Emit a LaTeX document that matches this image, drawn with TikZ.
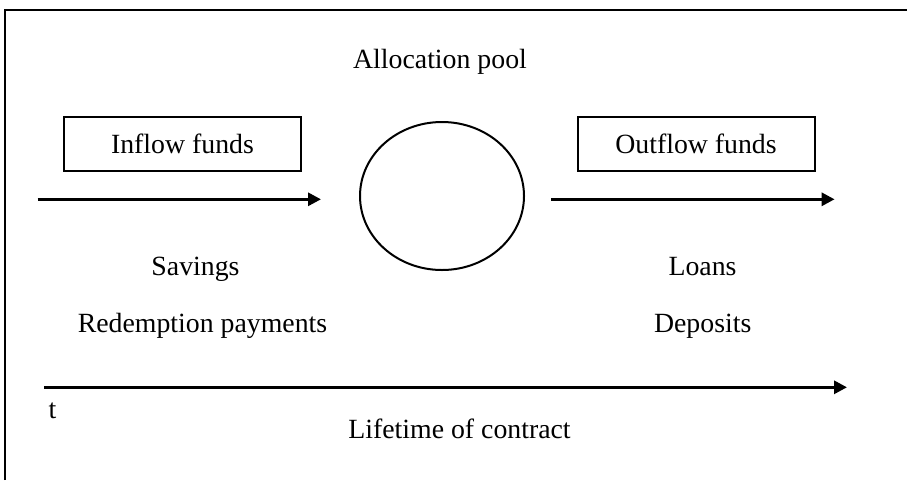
\documentclass[tikz,border=0pt]{standalone}
\usepackage{fontspec}
\setmainfont{Liberation Serif}
\usetikzlibrary{arrows.meta,shapes.geometric}
\begin{document}
\begin{tikzpicture}[x=1pt,y=-1pt,
  lbl/.style={font=\fontsize{27.8}{33}\selectfont, inner sep=0pt, anchor=base},
  fundbox/.style={draw, line width=2pt, minimum width=237pt, minimum height=54pt, inner sep=0pt},
  flow/.style={line width=3pt, -{Triangle[length=13pt,width=13pt]}}]
\useasboundingbox (0,0) rectangle (907,480);
% frame (only top and left visible)
\draw[line width=2pt] (4.6,480) -- (4.6,10) -- (907,10);
% texts
\node[lbl] (alloc) at (440,68) {Allocation pool};
\node[fundbox] (inbox) at (182.5,144) {};
\node[lbl] (intext) at (182.5,153) {Inflow funds};
\node[fundbox] (outbox) at (696,144) {};
\node[lbl] (outtext) at (696,153) {Outflow funds};
\node[draw, line width=2pt, ellipse, minimum width=164pt, minimum height=148pt, inner sep=0pt] (pool) at (442,196) {};
% flow arrows
\coordinate (a1s) at (37.6,199.3);
\coordinate (a1e) at (321,199.3);
\coordinate (a2s) at (551,199.3);
\coordinate (a2e) at (834.6,199.3);
\draw[flow] (a1s) -- (a1e);
\draw[flow] (a2s) -- (a2e);
\node[lbl] (sav) at (195.5,275) {Savings};
\node[lbl] (red) at (202.5,332) {Redemption payments};
\node[lbl] (loans) at (702.5,275) {Loans};
\node[lbl] (dep) at (702.7,332) {Deposits};
% time axis
\coordinate (ts) at (44,387.3);
\coordinate (te) at (847,387.3);
\draw[flow] (ts) -- (te);
\node[lbl] (t) at (52.5,418) {t};
\node[lbl] (life) at (459.5,438) {Lifetime of contract};
\end{tikzpicture}
\end{document}
